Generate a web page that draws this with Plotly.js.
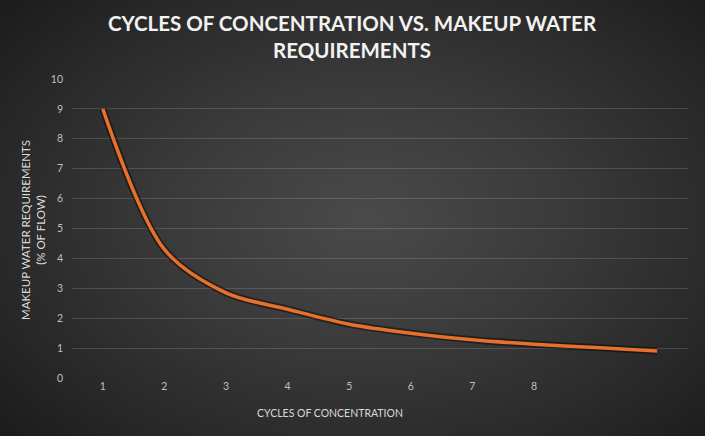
<!DOCTYPE html>
<html>
<head>
<meta charset="utf-8">
<script src="https://cdn.plot.ly/plotly-3.0.1.min.js"></script>
<style>
  html, body { margin: 0; padding: 0; background: #1c1c1c; }
  #chart {
    width: 705px; height: 436px;
    background: radial-gradient(ellipse 70% 75% at 52% 50%, #4a4a4a 0%, #3a3a3a 40%, #262626 80%, #1b1b1b 100%);
  }
</style>
</head>
<body>
<div id="chart"></div>
<script>
const cycles = [1, 2, 3, 4, 5, 6, 7, 8, 9, 10];
const makeup = [9, 4.3, 2.85, 2.3, 1.8, 1.5, 1.28, 1.13, 1.02, 0.9];
const xTickVals = [1, 2, 3, 4, 5, 6, 7, 8];
const xTickText = ['1', '2', '3', '4', '5', '6', '7', '8'];
const yTickVals = [0, 1, 2, 3, 4, 5, 6, 7, 8, 9, 10];
const titleLines = ['CYCLES OF CONCENTRATION VS. MAKEUP WATER', 'REQUIREMENTS'];

const font = 'Lato, "Open Sans", "DejaVu Sans", sans-serif';

const traces = [
  {
    x: cycles, y: makeup, type: 'scatter', mode: 'lines',
    line: { color: 'rgba(0,0,0,0.45)', width: 7, shape: 'spline', smoothing: 0.9 },
    hoverinfo: 'skip', showlegend: false
  },
  {
    x: cycles, y: makeup, type: 'scatter', mode: 'lines',
    line: { color: '#e8702a', width: 3.5, shape: 'spline', smoothing: 0.9 },
    showlegend: false
  }
];

const titleFont = { family: font, size: 20.5, color: '#f2f2f2', weight: 'bold' };

const layout = {
  width: 705, height: 436,
  paper_bgcolor: 'rgba(0,0,0,0)',
  plot_bgcolor: 'rgba(0,0,0,0)',
  margin: { l: 72, r: 17, t: 79, b: 58 },
  font: { family: font, color: '#c8c8c8' },
  xaxis: {
    range: [0.5, 10.5],
    tickmode: 'array', tickvals: xTickVals, ticktext: xTickText,
    showgrid: false, zeroline: false, showline: false, ticks: '',
    tickfont: { size: 10.5, color: '#bfbfbf' },
    fixedrange: true
  },
  yaxis: {
    range: [0, 10],
    tickmode: 'array', tickvals: yTickVals,
    showgrid: true, gridcolor: 'rgba(255,255,255,0.14)', gridwidth: 1,
    zeroline: false, showline: false, ticks: '',
    ticklabelstandoff: 8,
    tickfont: { size: 10.5, color: '#bfbfbf' },
    fixedrange: true
  },
  annotations: [
    {
      text: titleLines[0],
      xref: 'paper', yref: 'paper',
      x: (352 - 72) / 616, y: 1 + (79 - 23) / 299,
      xanchor: 'center', yanchor: 'middle', showarrow: false,
      font: titleFont
    },
    {
      text: titleLines[1],
      xref: 'paper', yref: 'paper',
      x: (352 - 72) / 616, y: 1 + (79 - 50) / 299,
      xanchor: 'center', yanchor: 'middle', showarrow: false,
      font: titleFont
    },
    {
      text: 'MAKEUP WATER REQUIREMENTS<br>(% OF FLOW)',
      xref: 'paper', yref: 'paper',
      x: (33 - 72) / 616, y: (378 - 230) / 299,
      xanchor: 'center', yanchor: 'middle', showarrow: false,
      textangle: -90,
      font: { family: font, size: 11.5, color: '#d9d9d9' }
    },
    {
      text: 'CYCLES OF CONCENTRATION',
      xref: 'paper', yref: 'paper',
      x: (330 - 72) / 616, y: -0.118,
      xanchor: 'center', yanchor: 'middle', showarrow: false,
      font: { family: font, size: 10.5, color: '#d9d9d9' }
    }
  ]
};

Plotly.newPlot('chart', traces, layout, { displayModeBar: false, staticPlot: true });
</script>
</body>
</html>
